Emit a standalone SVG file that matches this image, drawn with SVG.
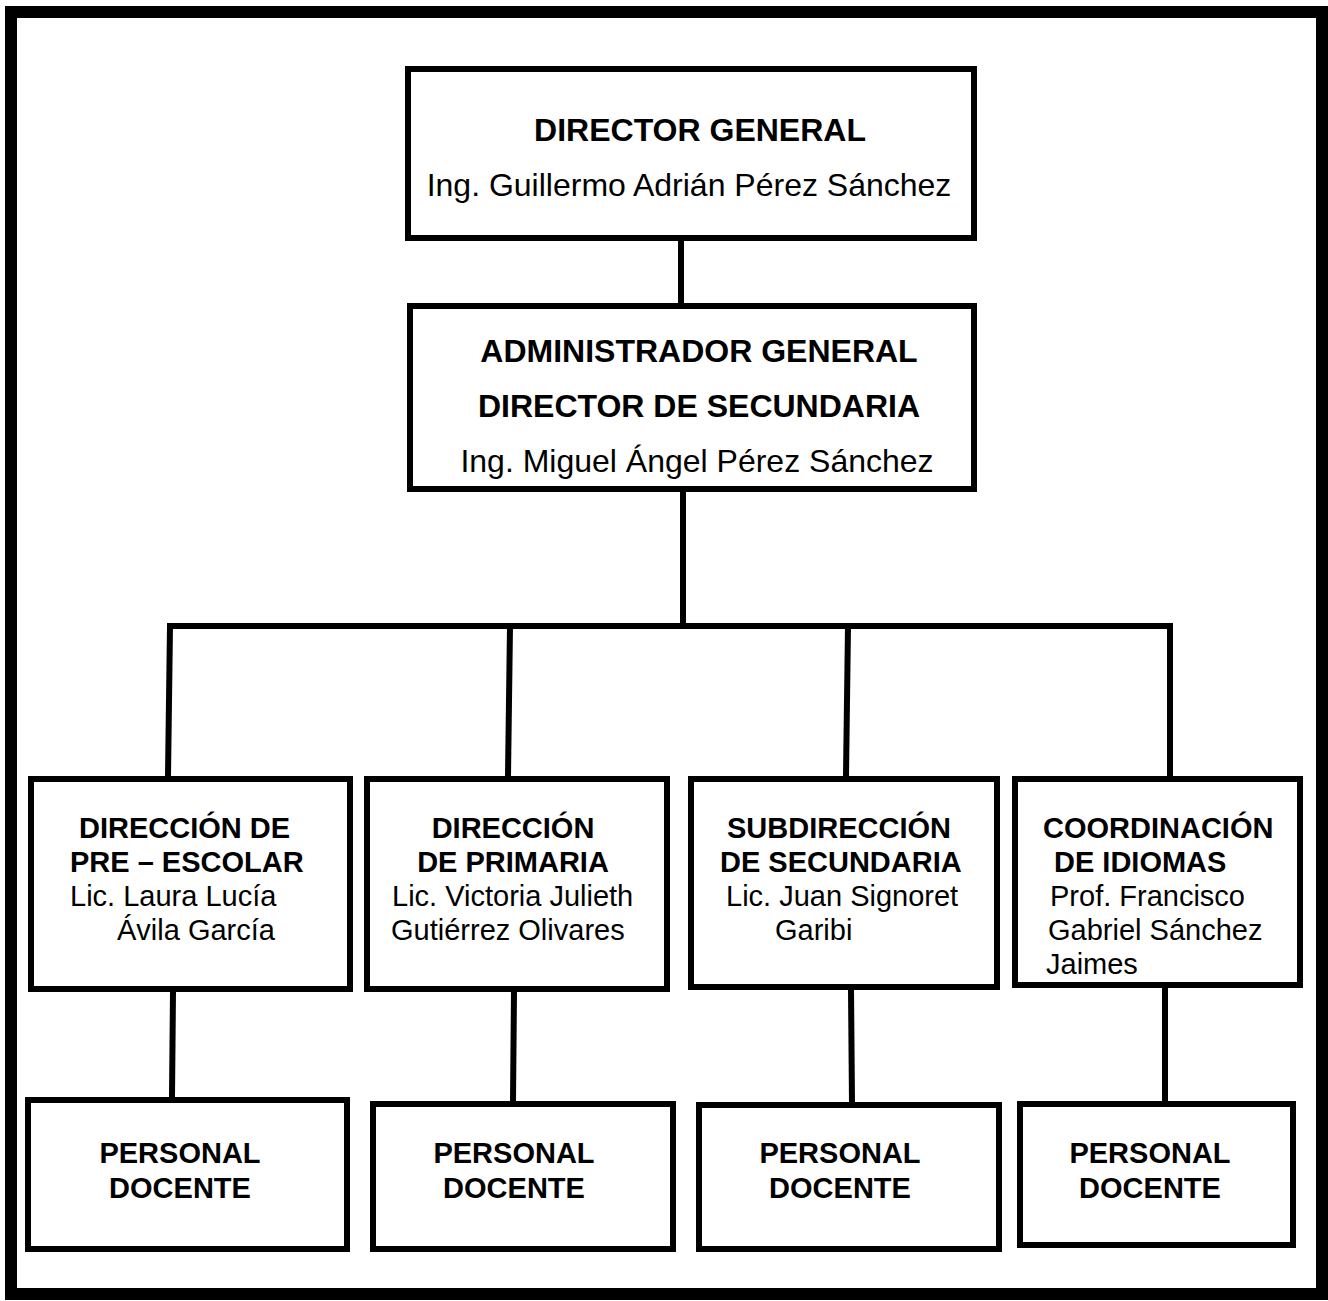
<svg xmlns="http://www.w3.org/2000/svg" width="1328" height="1301" viewBox="0 0 1328 1301">
<style>
.box{fill:#fff;stroke:#000;stroke-width:6}
.ln{fill:none;stroke:#000;stroke-width:6;stroke-linecap:square}
text{font-family:"Liberation Sans",Arial,sans-serif;fill:#000}
.b32{font-size:32px;font-weight:bold}
.r32{font-size:32px}
.b29{font-size:29px;font-weight:bold}
.r29{font-size:29px}
.c{text-anchor:middle}
</style>
<rect x="11" y="12" width="1311" height="1282" fill="#fff" stroke="#000" stroke-width="12"/>
<g id="connectors">
<line class="ln" x1="681" y1="241" x2="681" y2="303"/>
<line class="ln" x1="683" y1="492" x2="683" y2="626"/>
<line class="ln" x1="170" y1="626" x2="1170" y2="626"/>
<line class="ln" x1="170" y1="626" x2="168" y2="776"/>
<line class="ln" x1="510" y1="626" x2="508" y2="776"/>
<line class="ln" x1="848" y1="626" x2="846" y2="776"/>
<line class="ln" x1="1170" y1="626" x2="1170" y2="776"/>
<line class="ln" x1="173" y1="992" x2="172" y2="1097"/>
<line class="ln" x1="514" y1="992" x2="513" y2="1101"/>
<line class="ln" x1="851" y1="990" x2="852" y2="1102"/>
<line class="ln" x1="1165" y1="988" x2="1165" y2="1101"/>
</g>
<g id="director-general">
<rect class="box" x="408" y="69" width="566" height="169"/>
<text class="b32 c" x="700" y="141">DIRECTOR GENERAL</text>
<text class="r32 c" x="689" y="196">Ing. Guillermo Adrián Pérez Sánchez</text>
</g>
<g id="administrador-general">
<rect class="box" x="410" y="306" width="564" height="183"/>
<text class="b32 c" x="699" y="362">ADMINISTRADOR GENERAL</text>
<text class="b32 c" x="699" y="417">DIRECTOR DE SECUNDARIA</text>
<text class="r32 c" x="697" y="472">Ing. Miguel Ángel Pérez Sánchez</text>
</g>
<g id="direccion-preescolar">
<rect class="box" x="31" y="779" width="319" height="210"/>
<text class="b29" x="79" y="838">DIRECCIÓN DE</text>
<text class="b29" x="70" y="872">PRE – ESCOLAR</text>
<text class="r29" x="70" y="906">Lic. Laura Lucía</text>
<text class="r29" x="117" y="940">Ávila García</text>
</g>
<g id="direccion-primaria">
<rect class="box" x="367" y="779" width="300" height="210"/>
<text class="b29 c" x="513" y="838">DIRECCIÓN</text>
<text class="b29 c" x="513" y="872">DE PRIMARIA</text>
<text class="r29" x="392" y="906">Lic. Victoria Julieth</text>
<text class="r29" x="391" y="940">Gutiérrez Olivares</text>
</g>
<g id="subdireccion-secundaria">
<rect class="box" x="691" y="779" width="306" height="208"/>
<text class="b29" x="727" y="838">SUBDIRECCIÓN</text>
<text class="b29" x="720" y="872">DE SECUNDARIA</text>
<text class="r29" x="726" y="906">Lic. Juan Signoret</text>
<text class="r29" x="775" y="940">Garibi</text>
</g>
<g id="coordinacion-idiomas">
<rect class="box" x="1015" y="779" width="285" height="206"/>
<text class="b29" x="1043" y="838">COORDINACIÓN</text>
<text class="b29" x="1054" y="872">DE IDIOMAS</text>
<text class="r29" x="1050" y="906">Prof. Francisco</text>
<text class="r29" x="1048" y="940">Gabriel Sánchez</text>
<text class="r29" x="1046" y="974">Jaimes</text>
</g>
<g id="personal-docente-1">
<rect class="box" x="28" y="1100" width="319" height="149"/>
<text class="b29 c" x="180" y="1163">PERSONAL</text>
<text class="b29 c" x="180" y="1198">DOCENTE</text>
</g>
<g id="personal-docente-2">
<rect class="box" x="373" y="1104" width="300" height="145"/>
<text class="b29 c" x="514" y="1163">PERSONAL</text>
<text class="b29 c" x="514" y="1198">DOCENTE</text>
</g>
<g id="personal-docente-3">
<rect class="box" x="699" y="1105" width="300" height="144"/>
<text class="b29 c" x="840" y="1163">PERSONAL</text>
<text class="b29 c" x="840" y="1198">DOCENTE</text>
</g>
<g id="personal-docente-4">
<rect class="box" x="1020" y="1104" width="273" height="141"/>
<text class="b29 c" x="1150" y="1163">PERSONAL</text>
<text class="b29 c" x="1150" y="1198">DOCENTE</text>
</g>
</svg>
